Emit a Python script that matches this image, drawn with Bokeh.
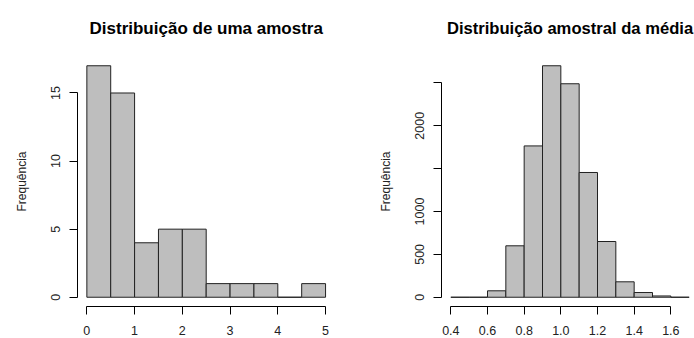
import math
from bokeh.plotting import figure
from bokeh.layouts import row
from bokeh.models import FixedTicker, Range1d, ColumnDataSource, Label
from bokeh.embed import file_html
from bokeh.resources import INLINE

# ---- data ----
amostra_edges = [0.0, 0.5, 1.0, 1.5, 2.0, 2.5, 3.0, 3.5, 4.0, 4.5, 5.0]
amostra_counts = [17, 15, 4, 5, 5, 1, 1, 1, 0, 1]
amostra_xticks = [0, 1, 2, 3, 4, 5]
amostra_xlabels = ["0", "1", "2", "3", "4", "5"]
amostra_yticks = [0, 5, 10, 15]
amostra_ylabels = ["0", "5", "10", "15"]

media_edges = [0.4, 0.5, 0.6, 0.7, 0.8, 0.9, 1.0, 1.1, 1.2, 1.3, 1.4, 1.5, 1.6, 1.7]
media_counts = [0, 0, 75, 600, 1765, 2700, 2490, 1455, 650, 180, 55, 15, 0]
media_xticks = [0.4, 0.6, 0.8, 1.0, 1.2, 1.4, 1.6]
media_xlabels = ["0.4", "0.6", "0.8", "1.0", "1.2", "1.4", "1.6"]
media_yticks = [0, 500, 1000, 1500, 2000, 2500]
media_ylabels = ["0", "500", "1000", "", "2000", ""]

titles = ["Distribuição de uma amostra", "Distribuição amostral da média"]
ylabel = "Frequência"

FONT = "Liberation Sans"
TXT = "#222222"
H = 338
PLOT_T, PLOT_B = 56, 306          # pixel rows of the R plot region


def make_fig(width, usr_x, px_x, usr_y):
    """Frame covers the whole figure; ranges chosen so that the R plot
    region usr_x/usr_y lands on pixels px_x / (PLOT_B, PLOT_T)."""
    sx = (px_x[1] - px_x[0]) / (usr_x[1] - usr_x[0])
    sy = (PLOT_B - PLOT_T) / (usr_y[1] - usr_y[0])
    xr = Range1d(usr_x[0] - px_x[0] / sx, usr_x[0] + (width - px_x[0]) / sx)
    yr = Range1d(usr_y[0] - (H - PLOT_B) / sy, usr_y[1] + PLOT_T / sy)
    p = figure(width=width, height=H, output_backend="svg", toolbar_location=None,
               x_range=xr, y_range=yr, min_border=0,
               min_border_left=0, min_border_right=0, min_border_top=0, min_border_bottom=0)
    p.grid.visible = False
    p.outline_line_color = None
    p.background_fill_color = "white"
    p.border_fill_color = "white"
    return p


def style(p, usr_x, usr_y, xticks, yticks, xbounds, ybounds, xlabels, ylabels):
    xa, ya = p.xaxis[0], p.yaxis[0]
    xa.fixed_location = usr_y[0]
    ya.fixed_location = usr_x[0]
    for ax in (xa, ya):
        ax.axis_line_color = "black"
        ax.major_tick_line_color = "black"
        ax.minor_tick_line_color = None
        ax.major_tick_in = 0
        ax.major_tick_out = 8
    xa.ticker = FixedTicker(ticks=xticks)
    ya.ticker = FixedTicker(ticks=yticks)
    xa.bounds = xbounds
    ya.bounds = ybounds
    xa.major_label_overrides = {t: "" for t in xticks}
    ya.major_label_overrides = {t: "" for t in yticks}
    # R-style tick labels
    for t, lab in zip(xticks, xlabels):
        p.add_layout(Label(x=t, y=usr_y[0], y_offset=-24, text=lab,
                           text_align="center", text_baseline="alphabetic",
                           text_font=FONT, text_font_size="12.5px", text_color=TXT))
    for t, lab in zip(yticks, ylabels):
        if lab:
            p.add_layout(Label(x=usr_x[0], y=t, x_offset=-22, text=lab,
                               angle=math.pi / 2, text_align="center",
                               text_baseline="alphabetic", text_font=FONT,
                               text_font_size="12.5px", text_color=TXT))
    ymid = (usr_y[0] + usr_y[1]) / 2
    p.add_layout(Label(x=usr_x[0], y=ymid, x_offset=-55.5, text=ylabel,
                       angle=math.pi / 2, text_align="center", text_baseline="alphabetic",
                       text_font=FONT, text_font_size="12px", text_color=TXT))


def add_title(p, text, usr_x, usr_y, size):
    p.add_layout(Label(x=(usr_x[0] + usr_x[1]) / 2, y=usr_y[1], y_offset=PLOT_T - 28,
                       text=text, text_align="center", text_baseline="alphabetic",
                       text_font=FONT, text_font_size=size, text_font_style="bold",
                       text_color="black"))


def bars(p, edges, counts):
    src = ColumnDataSource(dict(left=edges[:-1], right=edges[1:], top=counts,
                                bottom=[0] * len(counts)))
    p.quad(left="left", right="right", top="top", bottom="bottom", source=src,
           fill_color="#BEBEBE", line_color="#222222", line_width=1)


# left histogram (R usr: data range +4%)
lx0, lx1 = amostra_edges[0], amostra_edges[-1]
ly1 = max(amostra_counts)
usr_x1 = (lx0 - 0.04 * (lx1 - lx0), lx1 + 0.04 * (lx1 - lx0))
usr_y1 = (-0.04 * ly1, 1.04 * ly1)
p1 = make_fig(348, usr_x1, (76.8, 334.6), usr_y1)
bars(p1, amostra_edges, amostra_counts)
style(p1, usr_x1, usr_y1, amostra_xticks, amostra_yticks, (0, 5), (0, 15),
      amostra_xlabels, amostra_ylabels)
add_title(p1, titles[0], usr_x1, usr_y1, "17px")

# right histogram
rx0, rx1 = media_edges[0], media_edges[-1]
ry1 = max(media_counts)
usr_x2 = (rx0 - 0.04 * (rx1 - rx0), rx1 + 0.04 * (rx1 - rx0))
usr_y2 = (-0.04 * ry1, 1.04 * ry1)
p2 = make_fig(346, usr_x2, (92.8, 350.2), usr_y2)
bars(p2, media_edges, media_counts)
style(p2, usr_x2, usr_y2, media_xticks, media_yticks, (0.4, 1.6), (0, 2500),
      media_xlabels, media_ylabels)
add_title(p2, titles[1], usr_x2, usr_y2, "16.6px")

layout = row(p1, p2)
open("out.html", "w").write(file_html(layout, INLINE))
